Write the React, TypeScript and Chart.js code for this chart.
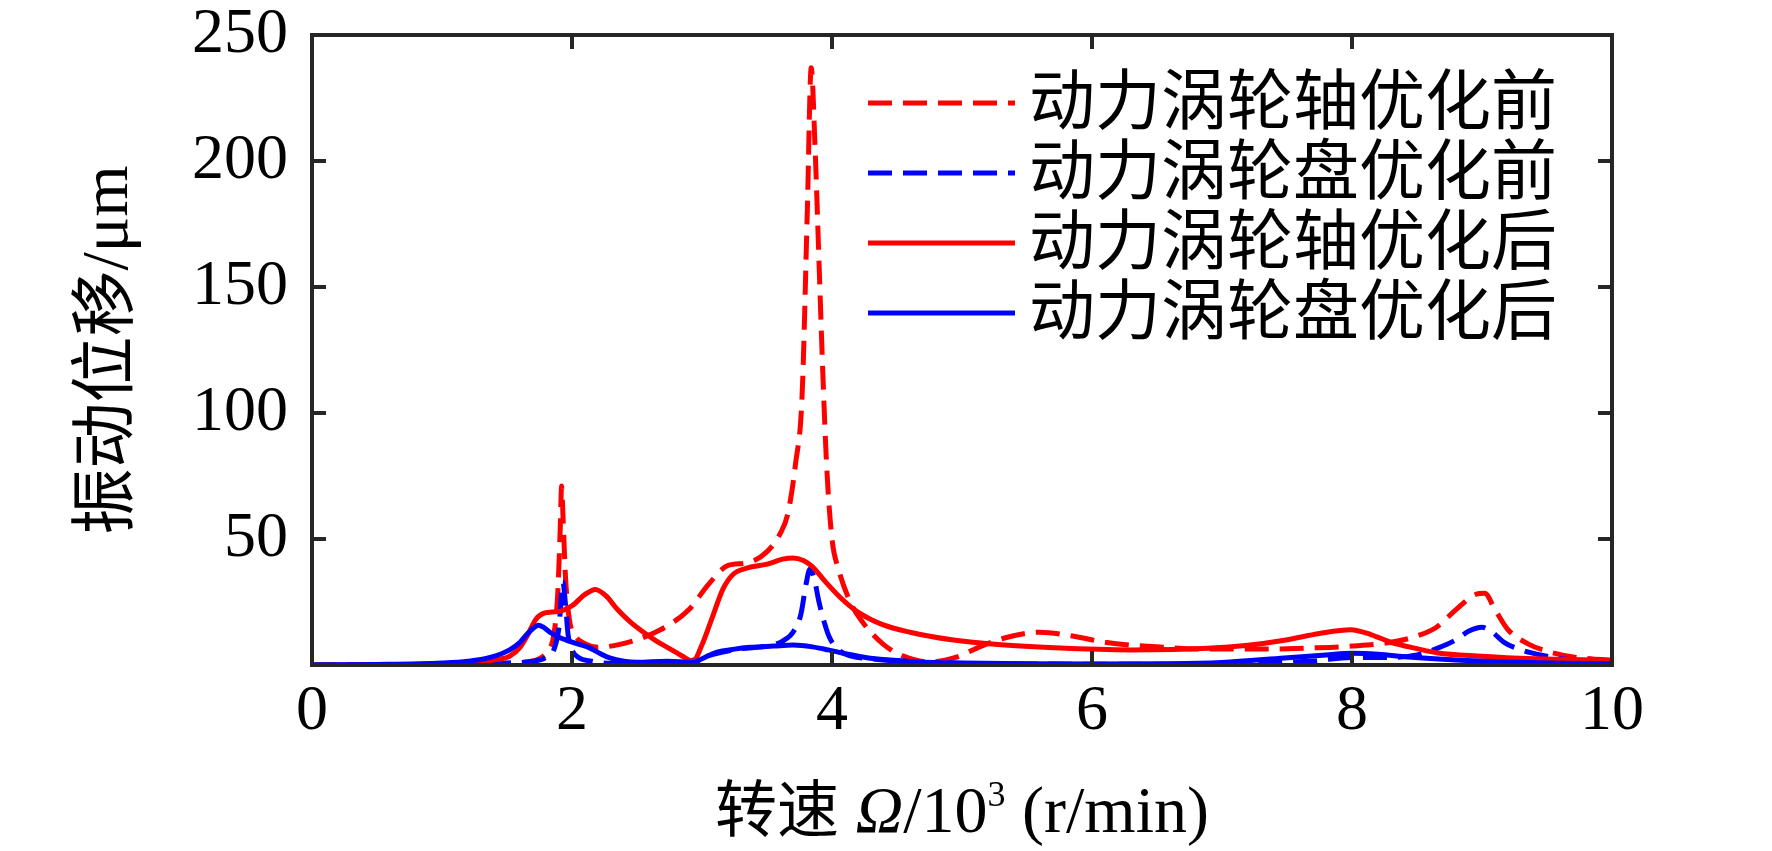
import { useEffect, useRef } from "react"
import { Chart, registerables, type ChartConfiguration, type Plugin } from "chart.js"

Chart.register(...registerables)

// speed Ω / 10^3 r/min  and  vibration displacement / μm
const axleBeforeX = [0, 0.5, 1.0, 1.3, 1.5, 1.65, 1.75, 1.82, 1.86, 1.89, 1.91, 1.92, 1.93, 1.95, 1.98, 2.02, 2.1, 2.2, 2.35, 2.5, 2.62, 2.75, 2.9, 3.05, 3.2, 3.35, 3.5, 3.6, 3.66, 3.72, 3.77, 3.81, 3.84, 3.87, 3.9, 3.93, 3.96, 4.0, 4.05, 4.15, 4.25, 4.4, 4.55, 4.75, 4.95, 5.15, 5.35, 5.6, 5.85, 6.1, 6.5, 6.9, 7.3, 7.7, 8.0, 8.3, 8.5, 8.65, 8.8, 8.95, 9.02, 9.1, 9.2, 9.35, 9.5, 9.7, 9.85, 10]
const axleBeforeY = [0, 0.1, 0.2, 0.3, 0.5, 1.2, 2.5, 6, 12, 28, 55, 71, 60, 35, 18, 12, 8.5, 7, 8, 10, 12.5, 16, 22, 32, 39.5, 40.5, 45, 52, 60, 80, 107, 180, 237, 205, 160, 115, 78, 50, 38, 24, 16, 8, 3.5, 1.2, 3, 7.5, 11, 13, 11.5, 9, 7.2, 6.3, 6.3, 6.8, 7.5, 9, 11.5, 15, 22, 28, 28.5, 22, 14, 8.5, 5.5, 3.2, 2.4, 2]

const diskBeforeX = [0, 1.0, 1.5, 1.7, 1.8, 1.86, 1.9, 1.93, 1.95, 1.97, 2.0, 2.05, 2.15, 2.3, 2.6, 2.85, 3.0, 3.15, 3.3, 3.5, 3.62, 3.7, 3.76, 3.8, 3.83, 3.86, 3.9, 3.94, 3.98, 4.05, 4.15, 4.3, 4.5, 4.8, 5.5, 6.5, 7.3, 7.7, 8.0, 8.3, 8.5, 8.65, 8.8, 8.9, 9.0, 9.08, 9.17, 9.3, 9.45, 9.7, 10]
const diskBeforeY = [0, 0.2, 0.8, 1.5, 3, 6, 15, 33, 24, 12, 6, 3, 1.5, 0.6, 0.4, 0.8, 3, 5, 6.5, 7.5, 9.5, 13, 20, 32, 38, 35, 25, 17, 11, 6, 3.5, 2.5, 1.5, 0.8, 0.4, 0.3, 0.8, 1.6, 3, 3, 4, 6.5, 10, 13.5, 15, 13, 9, 6, 4, 2, 1]

const axleAfterX = [0, 0.5, 1.0, 1.2, 1.4, 1.52, 1.6, 1.66, 1.72, 1.78, 1.85, 1.92, 2.0, 2.1, 2.18, 2.26, 2.35, 2.45, 2.55, 2.65, 2.75, 2.85, 2.93, 3.0, 3.08, 3.16, 3.24, 3.35, 3.5, 3.62, 3.7, 3.78, 3.85, 3.95, 4.08, 4.2, 4.39, 4.6, 4.92, 5.3, 5.71, 6.3, 6.89, 7.2, 7.48, 7.75, 7.99, 8.15, 8.3, 8.5, 8.66, 9.0, 9.24, 9.6, 10]
const axleAfterY = [0, 0.1, 0.4, 0.8, 2, 3.5, 7, 12, 18, 20.5, 21, 21.5, 23.5, 28, 30, 27.5, 22, 17, 13, 9.5, 6.5, 3.5, 1.5, 8, 19, 30, 36, 38.5, 40, 42, 42.5, 41.5, 39, 33, 26, 21, 16, 13, 10, 8, 6.8, 6, 6.6, 7.8, 9.8, 12.5, 14, 12, 9, 6.5, 4.8, 3.5, 2.8, 2.3, 1.8]

const diskAfterX = [0, 0.5, 1.0, 1.2, 1.37, 1.52, 1.6, 1.65, 1.7, 1.74, 1.78, 1.83, 1.9, 1.96, 2.05, 2.14, 2.22, 2.29, 2.4, 2.5, 2.73, 2.93, 3.0, 3.11, 3.25, 3.37, 3.55, 3.7, 3.85, 3.97, 4.1, 4.28, 4.5, 4.67, 5.0, 5.5, 6.0, 6.6, 7.0, 7.48, 7.8, 8.0, 8.2, 8.43, 8.8, 9.2, 9.6, 10]
const diskAfterY = [0, 0.2, 0.8, 1.5, 3, 6, 9, 12, 14.5, 15.8, 15, 13, 11, 9.8, 8.3, 6.7, 4.5, 2.8, 1.5, 1.1, 1.5, 1, 2.5, 5, 6.3, 7, 7.5, 7.9, 7.2, 6, 4.5, 2.8, 1.8, 1.2, 0.8, 0.5, 0.4, 0.5, 1, 2.8, 4, 4.7, 4.3, 3.2, 2, 1.2, 0.7, 0.5]

const seriesNames = ["动力涡轮轴优化前", "动力涡轮盘优化前", "动力涡轮轴优化后", "动力涡轮盘优化后"]
const xTicks = [0, 2, 4, 6, 8, 10]
const yTicks = [0, 50, 100, 150, 200, 250]

const SERIF = "'Liberation Serif', 'Times New Roman', serif"
const CJK = "'Liberation Serif', 'Noto Sans CJK SC', serif"
const AXIS = "#262626"

const toPoints = (xs: number[], ys: number[]) => xs.map((x, i) => ({ x, y: ys[i] }))

// box with inward ticks, drawn over the curves like matlab does
const framePlugin: Plugin = {
  id: "frame",
  afterDatasetsDraw(chart) {
    const { ctx, chartArea } = chart
    const { left, right, top, bottom } = chartArea
    const xs = chart.scales.x
    const ys = chart.scales.y
    const tl = 14
    ctx.save()
    ctx.strokeStyle = AXIS
    ctx.lineWidth = 4
    ctx.setLineDash([])
    ctx.strokeRect(left, top, right - left, bottom - top)
    ctx.beginPath()
    xTicks.slice(1, -1).forEach((v) => {
      const px = xs.getPixelForValue(v)
      ctx.moveTo(px, bottom)
      ctx.lineTo(px, bottom - tl)
      ctx.moveTo(px, top)
      ctx.lineTo(px, top + tl)
    })
    yTicks.slice(1, -1).forEach((v) => {
      const py = ys.getPixelForValue(v)
      ctx.moveTo(left, py)
      ctx.lineTo(left + tl, py)
      ctx.moveTo(right, py)
      ctx.lineTo(right - tl, py)
    })
    ctx.stroke()
    ctx.restore()
  },
}

const legendPlugin: Plugin = {
  id: "insideLegend",
  afterDraw(chart) {
    const { ctx, chartArea } = chart
    const x0 = chartArea.left + 556
    const x1 = x0 + 147
    const tx = x1 + 14
    ctx.save()
    chart.data.datasets.forEach((ds: any, i) => {
      const y = chartArea.top + 68 + 70 * i
      ctx.strokeStyle = ds.borderColor
      ctx.lineWidth = 5
      ctx.setLineDash(ds.borderDash || [])
      ctx.beginPath()
      ctx.moveTo(x0, y)
      ctx.lineTo(x1, y)
      ctx.stroke()
      ctx.setLineDash([])
      ctx.fillStyle = "#000"
      ctx.font = `66px ${CJK}`
      ctx.textBaseline = "middle"
      ctx.textAlign = "left"
      ctx.fillText(ds.label, tx, y + 4)
    })
    ctx.restore()
  },
}

// x title with italic Ω and a raised 3
const xTitlePlugin: Plugin = {
  id: "xTitle",
  afterDraw(chart) {
    const { ctx, chartArea } = chart
    const parts = [
      { t: "转速", f: `62px ${CJK}`, dy: 0 },
      { t: " ", f: `66px ${SERIF}`, dy: 0 },
      { t: "Ω", f: `italic 66px ${SERIF}`, dy: 0 },
      { t: "/10", f: `66px ${SERIF}`, dy: 0 },
      { t: "3", f: `36px ${SERIF}`, dy: -26 },
      { t: " (r/min)", f: `66px ${SERIF}`, dy: 0 },
    ]
    ctx.save()
    let total = 0
    const widths = parts.map((p) => {
      ctx.font = p.f
      const w = ctx.measureText(p.t).width
      total += w
      return w
    })
    let x = (chartArea.left + chartArea.right) / 2 - total / 2
    const base = 832
    ctx.fillStyle = "#000"
    ctx.textBaseline = "alphabetic"
    ctx.textAlign = "left"
    parts.forEach((p, i) => {
      ctx.font = p.f
      ctx.fillText(p.t, x, base + p.dy)
      x += widths[i]
    })
    ctx.restore()
  },
}

export default function App() {
  const canvasRef = useRef<HTMLCanvasElement>(null)
  const chartRef = useRef<Chart | null>(null)

  useEffect(() => {
    document.body.style.margin = "0"
    if (!canvasRef.current) return
    if (chartRef.current) chartRef.current.destroy()

    const common = {
      pointRadius: 0,
      borderWidth: 5,
      fill: false,
      cubicInterpolationMode: "monotone" as const,
    }

    const config: ChartConfiguration<"line"> = {
      type: "line",
      data: {
        datasets: [
          { ...common, label: seriesNames[0], data: toPoints(axleBeforeX, axleBeforeY), borderColor: "#ff0000", borderDash: [24, 11], order: 4 },
          { ...common, label: seriesNames[1], data: toPoints(diskBeforeX, diskBeforeY), borderColor: "#0000ff", borderDash: [24, 11], order: 3 },
          { ...common, label: seriesNames[2], data: toPoints(axleAfterX, axleAfterY), borderColor: "#ff0000", order: 2 },
          { ...common, label: seriesNames[3], data: toPoints(diskAfterX, diskAfterY), borderColor: "#0000ff", order: 1 },
        ],
      },
      options: {
        animation: false,
        responsive: true,
        maintainAspectRatio: false,
        layout: { padding: { left: 0, top: 35, right: 160, bottom: 0 } },
        plugins: {
          legend: { display: false },
          tooltip: { enabled: false },
        },
        scales: {
          x: {
            type: "linear",
            min: 0,
            max: 10,
            grid: { display: false, drawTicks: false },
            border: { display: false },
            ticks: {
              stepSize: 2,
              padding: 9,
              color: "#000",
              font: { family: SERIF, size: 64 },
              maxRotation: 0,
            },
            afterFit: (scale: any) => {
              scale.height = 186
              scale.paddingLeft = 0
              scale.paddingRight = 0
            },
          },
          y: {
            type: "linear",
            min: 0,
            max: 250,
            grid: { display: false, drawTicks: false },
            border: { display: false },
            ticks: {
              stepSize: 50,
              padding: 24,
              color: "#000",
              font: { family: SERIF, size: 64 },
              callback: (v: any) => (v === 0 ? "" : String(v)),
            },
            title: {
              display: true,
              text: "振动位移/μm",
              color: "#000",
              font: { family: CJK, size: 66 },
              padding: { top: 70, bottom: 0 },
            },
            afterFit: (scale: any) => {
              scale.width = 312
              scale.paddingTop = 0
              scale.paddingBottom = 0
            },
          },
        },
      },
      plugins: [framePlugin, legendPlugin, xTitlePlugin],
    }

    chartRef.current = new Chart(canvasRef.current, config)

    return () => {
      if (chartRef.current) {
        chartRef.current.destroy()
        chartRef.current = null
      }
    }
  }, [])

  return (
    <div style={{ position: "relative", width: 1772, height: 851, background: "#fff" }}>
      <canvas ref={canvasRef}></canvas>
    </div>
  )
}
